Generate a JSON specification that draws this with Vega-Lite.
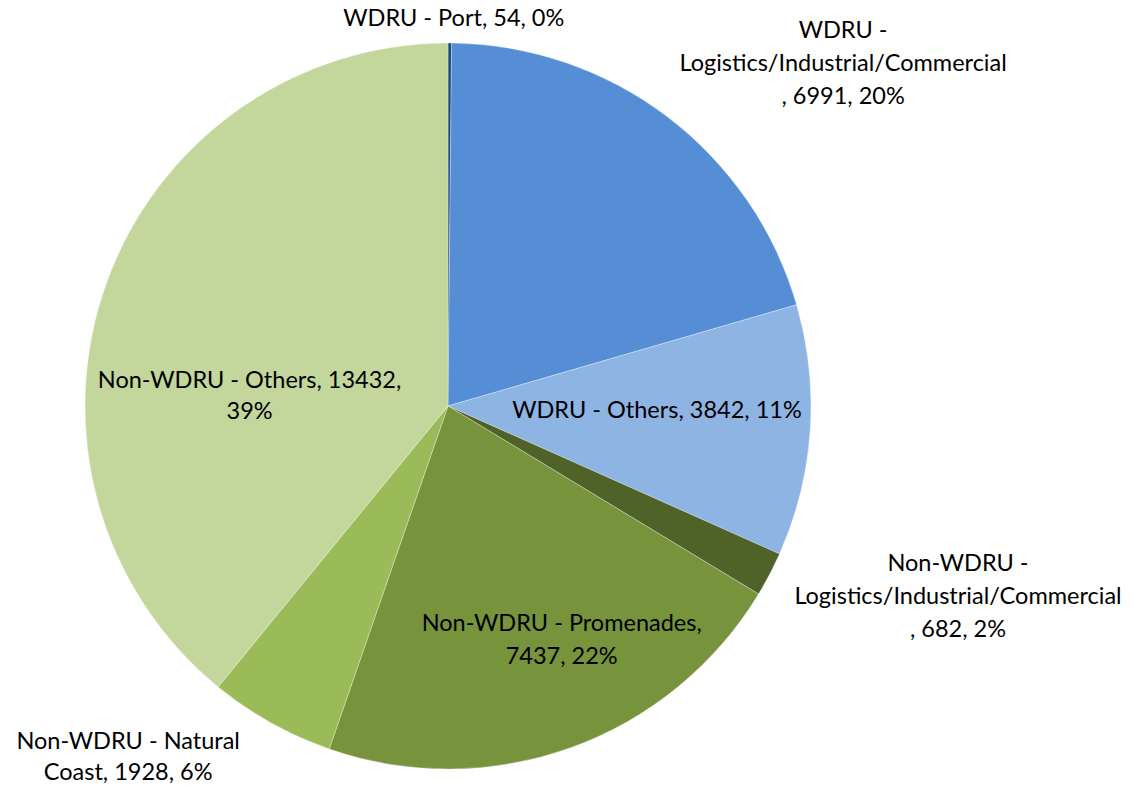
{
  "$schema": "https://vega.github.io/schema/vega-lite/v6.json",
  "width": 896,
  "height": 772,
  "autosize": {"type": "none"},
  "padding": {"left": 0, "top": 20, "right": 239, "bottom": 3},
  "background": "#ffffff",
  "config": {"view": {"stroke": null}, "text": {"font": "Lato", "fontSize": 23.5, "color": "#000000", "lineHeight": 33}},
  "data": {
    "values": [
      {"order": 1, "cat": "WDRU - Port", "value": 54, "label": "WDRU - Port, 54, 0%"},
      {"order": 2, "cat": "WDRU - Logistics/Industrial/Commercial", "value": 6991, "label": ["WDRU -", "Logistics/Industrial/Commercial", ", 6991, 20%"]},
      {"order": 3, "cat": "WDRU - Others", "value": 3842, "label": "WDRU - Others, 3842, 11%"},
      {"order": 4, "cat": "Non-WDRU - Logistics/Industrial/Commercial", "value": 682, "label": ["Non-WDRU -", "Logistics/Industrial/Commercial", ", 682, 2%"]},
      {"order": 5, "cat": "Non-WDRU - Promenades", "value": 7437, "label": ["Non-WDRU - Promenades,", "7437, 22%"]},
      {"order": 6, "cat": "Non-WDRU - Natural Coast", "value": 1928, "label": ["Non-WDRU - Natural", "Coast, 1928, 6%"]},
      {"order": 7, "cat": "Non-WDRU - Others", "value": 13432, "label": ["Non-WDRU - Others, 13432,", "39%"]}
    ]
  },
  "transform": [
    {"stack": "value", "groupby": [], "sort": [{"field": "order"}], "as": ["v0", "v1"]},
    {"calculate": "(datum.v0 + datum.v1) / 2", "as": "mid"}
  ],
  "layer": [
    {
      "mark": {"type": "arc", "outerRadius": 363, "stroke": "#ffffff", "strokeWidth": 0.6, "strokeOpacity": 0.5},
      "encoding": {
        "theta": {"field": "v0", "type": "quantitative", "scale": {"domain": [0, 34366]}},
        "theta2": {"field": "v1"},
        "color": {
          "field": "cat", "type": "nominal", "legend": null,
          "scale": {
            "domain": ["WDRU - Port", "WDRU - Logistics/Industrial/Commercial", "WDRU - Others", "Non-WDRU - Logistics/Industrial/Commercial", "Non-WDRU - Promenades", "Non-WDRU - Natural Coast", "Non-WDRU - Others"],
            "range": ["#1F497D", "#558ED5", "#8EB4E3", "#4F6228", "#77933C", "#9BBB59", "#C3D69B"]
          }
        }
      }
    },
    {
      "transform": [{"filter": "datum.order == 1"}],
      "mark": {"type": "text", "radius": 387, "thetaOffset": 0.01},
      "encoding": {"theta": {"field": "mid", "type": "quantitative", "scale": {"domain": [0, 34366]}}, "text": {"field": "label"}}
    },
    {
      "transform": [{"filter": "datum.order == 2"}],
      "mark": {"type": "text", "radius": 545, "thetaOffset": 0.162},
      "encoding": {"theta": {"field": "mid", "type": "quantitative", "scale": {"domain": [0, 34366]}}, "text": {"field": "label"}}
    },
    {
      "transform": [{"filter": "datum.order == 3"}],
      "mark": {"type": "text", "radius": 209, "thetaOffset": -0.045},
      "encoding": {"theta": {"field": "mid", "type": "quantitative", "scale": {"domain": [0, 34366]}}, "text": {"field": "label"}}
    },
    {
      "transform": [{"filter": "datum.order == 4"}],
      "mark": {"type": "text", "radius": 534, "thetaOffset": -0.181},
      "encoding": {"theta": {"field": "mid", "type": "quantitative", "scale": {"domain": [0, 34366]}}, "text": {"field": "label"}}
    },
    {
      "transform": [{"filter": "datum.order == 5"}],
      "mark": {"type": "text", "radius": 246, "thetaOffset": -0.134},
      "encoding": {"theta": {"field": "mid", "type": "quantitative", "scale": {"domain": [0, 34366]}}, "text": {"field": "label"}}
    },
    {
      "transform": [{"filter": "datum.order == 6"}],
      "mark": {"type": "text", "radius": 464, "thetaOffset": 0.251, "lineHeight": 31},
      "encoding": {"theta": {"field": "mid", "type": "quantitative", "scale": {"domain": [0, 34366]}}, "text": {"field": "label"}}
    },
    {
      "transform": [{"filter": "datum.order == 7"}],
      "mark": {"type": "text", "radius": 200, "thetaOffset": -0.218, "lineHeight": 31},
      "encoding": {"theta": {"field": "mid", "type": "quantitative", "scale": {"domain": [0, 34366]}}, "text": {"field": "label"}}
    }
  ]
}
